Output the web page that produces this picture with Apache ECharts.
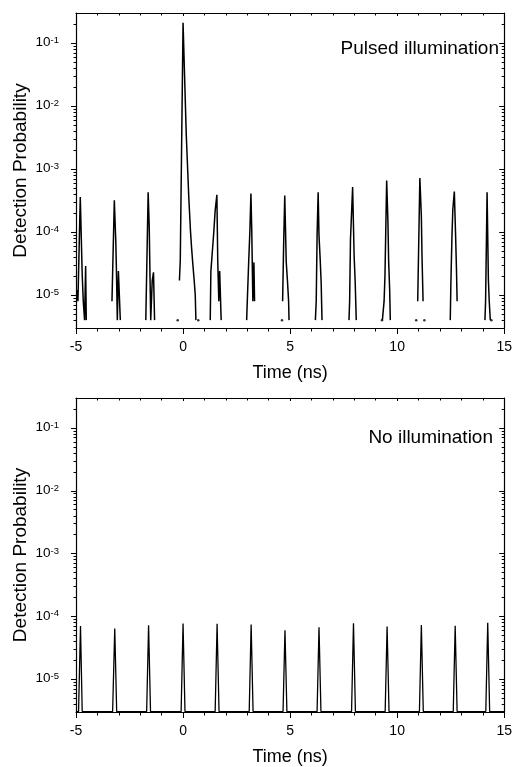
<!DOCTYPE html>
<html><head><meta charset="utf-8">
<script src="https://cdn.jsdelivr.net/npm/echarts@6/dist/echarts.min.js"></script>
<style>html,body{margin:0;padding:0;background:#fff}#c{width:515px;height:767px}</style>
</head><body><div id="c"></div>
<script>
// ---- tick values ----
const xTickValues = [-5, 0, 5, 10, 15];
const yMajorTicks = [1e-5, 1e-4, 1e-3, 1e-2, 1e-1];
const yMinorTicks = [4e-6,5e-6,6e-6,7e-6,8e-6,9e-6,
  2e-5,3e-5,4e-5,5e-5,6e-5,7e-5,8e-5,9e-5,
  2e-4,3e-4,4e-4,5e-4,6e-4,7e-4,8e-4,9e-4,
  2e-3,3e-3,4e-3,5e-3,6e-3,7e-3,8e-3,9e-3,
  2e-2,3e-2,4e-2,5e-2,6e-2,7e-2,8e-2,9e-2,
  2e-1];
const panelLabels = ['Pulsed illumination', 'No illumination'];

// ---- top panel: pulsed illumination (null = gap between pulses) ----
const timeTop = [
  -4.94,-4.91,-4.80,-4.71,-4.66,-4.60,-4.55,-4.52, null,
  -3.32,-3.21,-3.14,-3.11,-3.07,-3.02,-2.97,-2.93, null,
  -1.74,-1.63,-1.58,-1.54,-1.51,-1.44,-1.38,-1.33, null,
  -0.17,-0.13,0.00,0.15,0.27,0.35,0.40,0.46,0.52,0.57,0.60, null,
  1.27,1.30,1.37,1.44,1.50,1.58,1.62,1.67,1.71,1.78, null,
  2.97,3.00,3.07,3.12,3.17,3.21,3.26,3.31,3.34, null,
  4.65,4.70,4.75,4.82,4.88,4.93,4.95, null,
  6.18,6.22,6.26,6.31,6.35,6.40,6.45,6.49, null,
  7.75,7.78,7.82,7.92,7.99,8.04,8.09, null,
  9.31,9.39,9.43,9.51,9.57,9.60,9.65,9.68, null,
  10.96,11.06,11.13,11.16,11.21, null,
  12.48,12.51,12.56,12.60,12.67,12.73,12.77,12.80, null,
  14.10,14.13,14.20,14.26,14.30,14.35
];
const probTop = [
  1.2e-5,8e-6,3.6e-4,2.1e-5,8e-6,4e-6,2.9e-5,4e-6, null,
  8e-6,3.2e-4,6.8e-5,2.3e-5,4e-6,2.4e-5,2.4e-5,4e-6, null,
  4e-6,4.3e-4,1.2e-4,1.7e-5,4e-6,1.7e-5,2.3e-5,4e-6, null,
  1.7e-5,3.5e-5,0.21,3.5e-3,3.4e-4,1.0e-4,5.5e-5,3.0e-5,1.7e-5,1.0e-5,4e-6, null,
  4e-6,2.4e-5,5e-5,1.05e-4,2.2e-4,3.9e-4,3.5e-5,8e-6,2.4e-5,4e-6, null,
  4e-6,8e-6,3.7e-5,1.0e-4,4.1e-4,1.0e-4,8e-6,3.3e-5,8e-6, null,
  8e-6,6.8e-5,3.8e-4,3.3e-5,1.6e-5,8e-6,4e-6, null,
  4e-6,8e-6,8.7e-5,4.3e-4,8.7e-5,4e-5,1.6e-5,4e-6, null,
  4e-6,8e-6,7.7e-5,5.2e-4,4.2e-5,1.6e-5,4e-6, null,
  4e-6,8e-6,2e-5,6.6e-4,1.4e-4,3.7e-5,1.2e-5,4e-6, null,
  8e-6,7.2e-4,1.8e-4,4.2e-5,8e-6, null,
  4e-6,1.6e-5,8.7e-5,2.3e-4,4.4e-4,8.7e-5,2.6e-5,8e-6, null,
  4e-6,8e-6,4.3e-4,1.8e-5,8e-6,4e-6
];
// isolated single-bin counts
const dotTime = [-0.25, 0.71, 4.62, 9.29, 10.89, 11.27, 14.40];
const dotProb = [4e-6, 4e-6, 4e-6, 4e-6, 4e-6, 4e-6, 4e-6];

// ---- bottom panel: no illumination ----
const timeBot = [
  -5.00,-4.88,-4.79,-4.71, -3.29,-3.19,-3.10, -1.70,-1.61,-1.52,
  -0.09,0.00,0.09, 1.50,1.59,1.68, 3.09,3.18,3.27, 4.67,4.76,4.85,
  6.26,6.35,6.44, 7.87,7.96,8.05, 9.44,9.53,9.62, 11.04,11.13,11.22,
  12.62,12.71,12.80, 14.14,14.23,14.32, 15.00
];
const probBot = [
  3.05e-6,3.05e-6,7.0e-5,3.05e-6, 3.05e-6,6.4e-5,3.05e-6, 3.05e-6,7.2e-5,3.05e-6,
  3.05e-6,7.7e-5,3.05e-6, 3.05e-6,7.6e-5,3.05e-6, 3.05e-6,7.4e-5,3.05e-6, 3.05e-6,6.0e-5,3.05e-6,
  3.05e-6,6.7e-5,3.05e-6, 3.05e-6,7.8e-5,3.05e-6, 3.05e-6,6.9e-5,3.05e-6, 3.05e-6,7.3e-5,3.05e-6,
  3.05e-6,7.1e-5,3.05e-6, 3.05e-6,7.9e-5,3.05e-6, 3.05e-6
];

const pairs = (xs, ys) => xs.map((x, i) => (x === null || ys[i] === null) ? ['-', '-'] : [x, ys[i]]);

const FONT = 'Liberation Sans, Arial, Helvetica, sans-serif';
const black = '#000';

function xAx(g, pos) {
  const bottom = pos === 'bottom';
  return {
    type: 'value', gridIndex: g, position: pos, min: -5, max: 15, interval: 5,
    axisLine: { show: true, onZero: false, lineStyle: { color: black, width: 1.2 } },
    axisTick: { show: true, inside: !bottom, length: bottom ? 6 : 3, lineStyle: { color: black, width: 1 } },
    minorTick: { show: true, splitNumber: 5, length: bottom ? 3.5 : 2.5, lineStyle: { color: black, width: 1 } },
    splitLine: { show: false }, minorSplitLine: { show: false },
    axisLabel: { show: bottom, color: black, fontSize: 14, margin: 12, fontFamily: FONT,
      customValues: xTickValues },
    name: bottom ? 'Time (ns)' : '', nameLocation: 'middle', nameGap: 36, nameMoveOverlap: false,
    nameTextStyle: { color: black, fontSize: 18, fontFamily: FONT }
  };
}
function yAx(g, pos, minor) {
  const left = pos === 'left';
  return {
    type: 'log', logBase: 10, gridIndex: g, position: pos, min: 3e-6, max: 0.3,
    axisLine: { show: !minor, onZero: false, lineStyle: { color: black, width: 1.2 } },
    axisTick: { show: true, inside: !left, length: minor ? 2.5 : 5,
      customValues: minor ? yMinorTicks : yMajorTicks, lineStyle: { color: black, width: 1 } },
    minorTick: { show: false },
    splitLine: { show: false },
    axisLabel: { show: left && !minor, color: black, fontSize: 13, margin: 17, fontFamily: FONT,
      customValues: yMajorTicks,
      formatter: v => '{b|10}{s|' + Math.round(Math.log10(v)) + '}',
      rich: {
        b: { fontSize: 13.5, lineHeight: 15, verticalAlign: 'top', color: black, fontFamily: FONT },
        s: { fontSize: 9.5, lineHeight: 10, verticalAlign: 'top', color: black, fontFamily: FONT }
      }
    },
    name: (left && !minor) ? 'Detection Probability' : '', nameLocation: 'middle', nameGap: 46,
    nameRotate: 90, nameMoveOverlap: false,
    nameTextStyle: { color: black, fontSize: 19, fontFamily: FONT }
  };
}

const chart = echarts.init(document.getElementById('c'), null, { renderer: 'canvas' });
chart.setOption({
  animation: false,
  backgroundColor: '#fff',
  textStyle: { fontFamily: FONT },
  title: [
    { text: panelLabels[0], right: 11, top: 34, textStyle: { fontSize: 19, fontWeight: 'normal', color: black, fontFamily: FONT } },
    { text: panelLabels[1], right: 17, top: 423, textStyle: { fontSize: 19, fontWeight: 'normal', color: black, fontFamily: FONT } }
  ],
  grid: [
    { left: 76, right: 8, top: 13, height: 315 },
    { left: 76, right: 9, top: 398, height: 315 }
  ],
  xAxis: [xAx(0, 'bottom'), xAx(0, 'top'), xAx(1, 'bottom'), xAx(1, 'top')],
  yAxis: [yAx(0, 'left', false), yAx(0, 'left', true), yAx(0, 'right', false), yAx(0, 'right', true),
          yAx(1, 'left', false), yAx(1, 'left', true), yAx(1, 'right', false), yAx(1, 'right', true)],
  series: [
    { type: 'line', xAxisIndex: 0, yAxisIndex: 0, data: pairs(timeTop, probTop), showSymbol: false,
      connectNulls: false, lineStyle: { color: black, width: 1.5 }, itemStyle: { color: black } },
    { type: 'scatter', xAxisIndex: 0, yAxisIndex: 0, data: pairs(dotTime, dotProb), symbolSize: 2.5,
      itemStyle: { color: black } },
    { type: 'line', xAxisIndex: 2, yAxisIndex: 4, data: pairs(timeBot, probBot), showSymbol: false,
      lineStyle: { color: black, width: 1.3 }, itemStyle: { color: black } }
  ]
});
</script></body></html>
